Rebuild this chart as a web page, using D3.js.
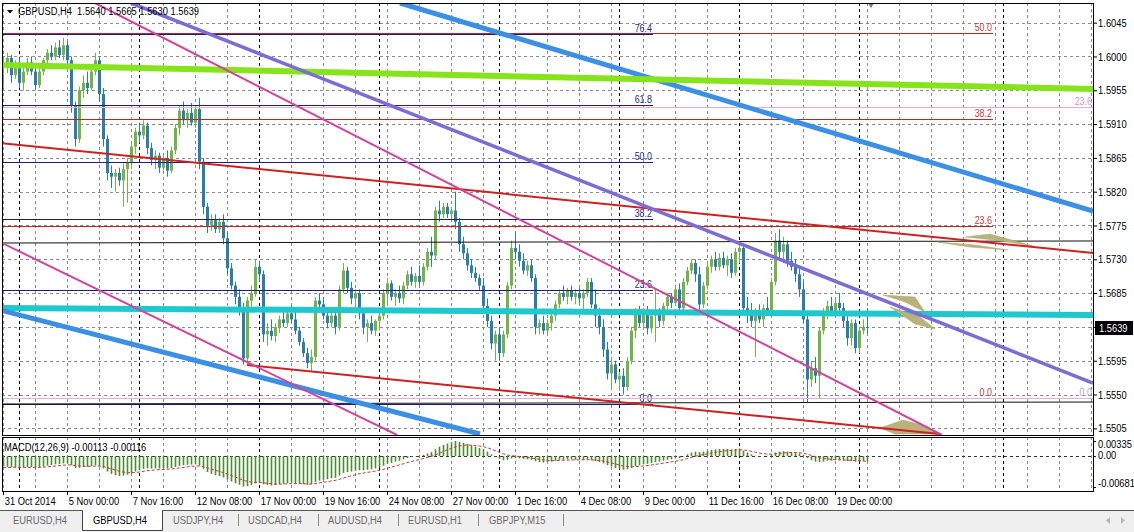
<!DOCTYPE html>
<html><head><meta charset="utf-8">
<script src="https://cdn.jsdelivr.net/npm/d3@7"></script>
<style>
html,body{margin:0;padding:0;background:#fff;}
svg{display:block;font-family:"Liberation Sans",Arial,sans-serif;}
</style></head><body>
<svg id="c" width="1134" height="532"></svg>
<script>
// ---------------- DATA ----------------
const symbolTitle = "GBPUSD,H4";
const lastOHLC = ["1.5640","1.5665","1.5630","1.5639"];
const opens = [
1.5985,1.5990,1.5998,1.5975,1.5990,1.5965,1.5980,1.5992,1.5980,1.5962,
1.5980,1.5995,1.6005,1.6000,1.6012,1.6002,1.6015,1.5995,1.5935,1.5890,
1.5955,1.5965,1.5958,1.5980,1.5995,1.5950,1.5890,1.5845,1.5840,1.5845,
1.5835,1.5850,1.5858,1.5880,1.5900,1.5895,1.5908,1.5878,1.5862,1.5868,
1.5852,1.5865,1.5848,1.5875,1.5905,1.5928,1.5915,1.5925,1.5912,1.5930,
1.5860,1.5800,1.5775,1.5782,1.5770,1.5780,1.5758,1.5718,1.5695,1.5680,
1.5665,1.5598,1.5675,1.5685,1.5720,1.5710,1.5630,1.5635,1.5628,1.5640,
1.5650,1.5645,1.5658,1.5650,1.5635,1.5620,1.5605,1.5592,1.5600,1.5675,
1.5670,1.5655,1.5645,1.5655,1.5640,1.5690,1.5715,1.5692,1.5678,1.5685,
1.5658,1.5640,1.5645,1.5635,1.5648,1.5655,1.5685,1.5698,1.5680,1.5685,
1.5678,1.5695,1.5710,1.5700,1.5708,1.5700,1.5720,1.5740,1.5735,1.5795,
1.5790,1.5800,1.5790,1.5795,1.5780,1.5750,1.5738,1.5722,1.5712,1.5705,
1.5695,1.5668,1.5648,1.5618,1.5630,1.5605,1.5630,1.5695,1.5745,1.5740,
1.5728,1.5715,1.5722,1.5705,1.5640,1.5645,1.5635,1.5645,1.5655,1.5670,
1.5685,1.5680,1.5688,1.5680,1.5685,1.5678,1.5685,1.5700,1.5670,1.5655,
1.5640,1.5610,1.5578,1.5590,1.5570,1.5575,1.5560,1.5595,1.5635,1.5660,
1.5645,1.5660,1.5638,1.5655,1.5660,1.5648,1.5668,1.5680,1.5672,1.5690,
1.5665,1.5700,1.5715,1.5725,1.5710,1.5670,1.5695,1.5720,1.5730,1.5720,
1.5732,1.5722,1.5730,1.5712,1.5740,1.5745,1.5665,1.5660,1.5648,1.5655,
1.5650,1.5665,1.5660,1.5700,1.5755,1.5740,1.5750,1.5728,1.5720,1.5710,
1.5690,1.5650,1.5570,1.5585,1.5575,1.5635,1.5660,1.5668,1.5660,1.5672,
1.5665,1.5648,1.5625,1.5645,1.5612,1.5635,1.5640];
const highs = [
1.6000,1.6005,1.6002,1.5995,1.5998,1.5985,1.5998,1.6000,1.5990,1.5985,
1.5998,1.6010,1.6015,1.6018,1.6022,1.6025,1.6020,1.6000,1.5940,1.5960,
1.5975,1.5980,1.5985,1.6005,1.6000,1.5958,1.5895,1.5855,1.5850,1.5852,
1.5858,1.5865,1.5885,1.5905,1.5912,1.5915,1.5912,1.5885,1.5875,1.5872,
1.5870,1.5875,1.5880,1.5910,1.5935,1.5940,1.5930,1.5938,1.5935,1.5945,
1.5865,1.5805,1.5790,1.5790,1.5785,1.5790,1.5765,1.5725,1.5700,1.5690,
1.5672,1.5680,1.5695,1.5730,1.5728,1.5715,1.5645,1.5650,1.5645,1.5655,
1.5660,1.5662,1.5668,1.5665,1.5640,1.5625,1.5612,1.5610,1.5680,1.5685,
1.5680,1.5665,1.5660,1.5665,1.5695,1.5725,1.5720,1.5700,1.5690,1.5690,
1.5665,1.5650,1.5655,1.5650,1.5660,1.5690,1.5705,1.5702,1.5690,1.5695,
1.5700,1.5715,1.5720,1.5712,1.5722,1.5725,1.5745,1.5760,1.5800,1.5808,
1.5805,1.5805,1.5800,1.5820,1.5785,1.5760,1.5745,1.5730,1.5720,1.5710,
1.5705,1.5678,1.5655,1.5635,1.5640,1.5635,1.5700,1.5755,1.5765,1.5750,
1.5738,1.5728,1.5730,1.5710,1.5650,1.5655,1.5650,1.5660,1.5675,1.5690,
1.5695,1.5692,1.5695,1.5690,1.5692,1.5690,1.5705,1.5705,1.5690,1.5665,
1.5650,1.5620,1.5600,1.5595,1.5580,1.5585,1.5600,1.5640,1.5665,1.5668,
1.5665,1.5668,1.5660,1.5690,1.5665,1.5672,1.5685,1.5685,1.5695,1.5698,
1.5705,1.5720,1.5730,1.5730,1.5720,1.5700,1.5725,1.5735,1.5740,1.5738,
1.5740,1.5735,1.5738,1.5745,1.5750,1.5750,1.5680,1.5672,1.5665,1.5670,
1.5670,1.5680,1.5705,1.5765,1.5770,1.5760,1.5755,1.5740,1.5730,1.5718,
1.5700,1.5660,1.5595,1.5600,1.5640,1.5665,1.5675,1.5680,1.5678,1.5685,
1.5672,1.5660,1.5650,1.5650,1.5640,1.5650,1.5665];
const lows = [
1.5960,1.5978,1.5965,1.5970,1.5958,1.5955,1.5975,1.5975,1.5955,1.5958,
1.5975,1.5985,1.5995,1.5995,1.5998,1.5995,1.5990,1.5925,1.5880,1.5885,
1.5945,1.5950,1.5955,1.5975,1.5940,1.5880,1.5835,1.5825,1.5820,1.5828,
1.5800,1.5805,1.5850,1.5870,1.5885,1.5890,1.5870,1.5855,1.5850,1.5845,
1.5848,1.5840,1.5845,1.5870,1.5895,1.5910,1.5905,1.5908,1.5905,1.5850,
1.5790,1.5765,1.5768,1.5765,1.5765,1.5750,1.5710,1.5690,1.5670,1.5655,
1.5590,1.5590,1.5660,1.5680,1.5700,1.5620,1.5615,1.5622,1.5620,1.5632,
1.5640,1.5640,1.5645,1.5630,1.5615,1.5600,1.5585,1.5580,1.5595,1.5660,
1.5650,1.5638,1.5640,1.5630,1.5635,1.5685,1.5685,1.5670,1.5665,1.5650,
1.5630,1.5620,1.5630,1.5628,1.5635,1.5650,1.5670,1.5675,1.5668,1.5672,
1.5670,1.5690,1.5695,1.5692,1.5695,1.5695,1.5715,1.5720,1.5730,1.5780,
1.5785,1.5785,1.5780,1.5770,1.5740,1.5730,1.5715,1.5705,1.5700,1.5688,
1.5660,1.5640,1.5610,1.5595,1.5595,1.5600,1.5625,1.5690,1.5730,1.5720,
1.5710,1.5708,1.5700,1.5630,1.5630,1.5630,1.5628,1.5635,1.5648,1.5665,
1.5675,1.5670,1.5675,1.5670,1.5672,1.5660,1.5680,1.5665,1.5640,1.5630,
1.5600,1.5570,1.5560,1.5565,1.5555,1.5550,1.5555,1.5590,1.5625,1.5640,
1.5640,1.5630,1.5632,1.5620,1.5640,1.5642,1.5660,1.5665,1.5668,1.5660,
1.5660,1.5695,1.5710,1.5700,1.5660,1.5665,1.5690,1.5712,1.5715,1.5715,
1.5718,1.5708,1.5705,1.5708,1.5725,1.5660,1.5645,1.5640,1.5600,1.5645,
1.5640,1.5655,1.5655,1.5695,1.5730,1.5725,1.5720,1.5715,1.5700,1.5680,
1.5645,1.5540,1.5560,1.5565,1.5545,1.5630,1.5650,1.5655,1.5655,1.5660,
1.5640,1.5615,1.5615,1.5605,1.5605,1.5630,1.5630];
const closes = [
1.5990,1.5998,1.5975,1.5990,1.5965,1.5980,1.5992,1.5980,1.5962,1.5980,
1.5995,1.6005,1.6000,1.6012,1.6002,1.6015,1.5995,1.5935,1.5890,1.5955,
1.5965,1.5958,1.5980,1.5995,1.5950,1.5890,1.5845,1.5840,1.5845,1.5835,
1.5850,1.5858,1.5880,1.5900,1.5895,1.5908,1.5878,1.5862,1.5868,1.5852,
1.5865,1.5848,1.5875,1.5905,1.5928,1.5915,1.5925,1.5912,1.5930,1.5860,
1.5800,1.5775,1.5782,1.5770,1.5780,1.5758,1.5718,1.5695,1.5680,1.5665,
1.5598,1.5675,1.5685,1.5720,1.5710,1.5630,1.5635,1.5628,1.5640,1.5650,
1.5645,1.5658,1.5650,1.5635,1.5620,1.5605,1.5592,1.5600,1.5675,1.5670,
1.5655,1.5645,1.5655,1.5640,1.5690,1.5715,1.5692,1.5678,1.5685,1.5658,
1.5640,1.5645,1.5635,1.5648,1.5655,1.5685,1.5698,1.5680,1.5685,1.5678,
1.5695,1.5710,1.5700,1.5708,1.5700,1.5720,1.5740,1.5735,1.5795,1.5790,
1.5800,1.5790,1.5795,1.5780,1.5750,1.5738,1.5722,1.5712,1.5705,1.5695,
1.5668,1.5648,1.5618,1.5630,1.5605,1.5630,1.5695,1.5745,1.5740,1.5728,
1.5715,1.5722,1.5705,1.5640,1.5645,1.5635,1.5645,1.5655,1.5670,1.5685,
1.5680,1.5688,1.5680,1.5685,1.5678,1.5685,1.5700,1.5670,1.5655,1.5640,
1.5610,1.5578,1.5590,1.5570,1.5575,1.5560,1.5595,1.5635,1.5660,1.5645,
1.5660,1.5638,1.5655,1.5660,1.5648,1.5668,1.5680,1.5672,1.5690,1.5665,
1.5700,1.5715,1.5725,1.5710,1.5670,1.5695,1.5720,1.5730,1.5720,1.5732,
1.5722,1.5730,1.5712,1.5740,1.5745,1.5665,1.5660,1.5648,1.5655,1.5650,
1.5665,1.5660,1.5700,1.5755,1.5740,1.5750,1.5728,1.5720,1.5710,1.5690,
1.5650,1.5570,1.5585,1.5575,1.5635,1.5660,1.5668,1.5660,1.5672,1.5665,
1.5648,1.5625,1.5645,1.5612,1.5635,1.5640,1.5639];
const macdMain = [
-0.00230,-0.00235,-0.00245,-0.00240,-0.00255,-0.00250,-0.00240,-0.00238,-0.00250,-0.00245,
-0.00230,-0.00210,-0.00195,-0.00180,-0.00175,-0.00160,-0.00160,-0.00200,-0.00260,-0.00255,
-0.00240,-0.00235,-0.00220,-0.00200,-0.00215,-0.00270,-0.00340,-0.00390,-0.00420,-0.00440,
-0.00430,-0.00410,-0.00380,-0.00340,-0.00310,-0.00280,-0.00270,-0.00275,-0.00270,-0.00272,
-0.00268,-0.00270,-0.00262,-0.00240,-0.00215,-0.00200,-0.00190,-0.00185,-0.00180,-0.00210,
-0.00280,-0.00350,-0.00390,-0.00420,-0.00440,-0.00470,-0.00510,-0.00560,-0.00600,-0.00630,
-0.00670,-0.00660,-0.00640,-0.00600,-0.00590,-0.00620,-0.00640,-0.00650,-0.00640,-0.00620,
-0.00610,-0.00600,-0.00590,-0.00600,-0.00610,-0.00620,-0.00630,-0.00620,-0.00570,-0.00540,
-0.00520,-0.00510,-0.00490,-0.00480,-0.00430,-0.00370,-0.00350,-0.00340,-0.00320,-0.00310,
-0.00310,-0.00300,-0.00290,-0.00270,-0.00250,-0.00210,-0.00170,-0.00150,-0.00120,-0.00100,
-0.00070,-0.00040,-0.00020,-0.00005,0.00010,0.00030,0.00060,0.00090,0.00150,0.00210,
0.00250,0.00280,0.00310,0.00335,0.00320,0.00290,0.00270,0.00240,0.00210,0.00180,
0.00150,0.00100,0.00040,-0.00010,-0.00060,-0.00090,-0.00080,-0.00050,-0.00040,-0.00050,
-0.00060,-0.00070,-0.00080,-0.00110,-0.00130,-0.00140,-0.00130,-0.00120,-0.00100,-0.00080,
-0.00080,-0.00070,-0.00070,-0.00080,-0.00070,-0.00080,-0.00070,-0.00090,-0.00110,-0.00130,
-0.00160,-0.00200,-0.00230,-0.00260,-0.00280,-0.00300,-0.00290,-0.00260,-0.00220,-0.00200,
-0.00180,-0.00170,-0.00150,-0.00130,-0.00120,-0.00100,-0.00080,-0.00070,-0.00050,-0.00040,
-0.00010,0.00040,0.00080,0.00100,0.00090,0.00100,0.00120,0.00140,0.00150,0.00160,
0.00160,0.00160,0.00150,0.00160,0.00170,0.00120,0.00080,0.00040,0.00010,-0.00010,
0.00000,0.00010,0.00040,0.00080,0.00100,0.00110,0.00100,0.00090,0.00080,0.00060,
0.00030,-0.00040,-0.00090,-0.00120,-0.00130,-0.00120,-0.00100,-0.00100,-0.00090,-0.00090,
-0.00100,-0.00110,-0.00110,-0.00120,-0.00120,-0.00110,-0.00113];
const macdSignal = [
-0.00250,-0.00248,-0.00247,-0.00246,-0.00248,-0.00248,-0.00247,-0.00246,-0.00247,-0.00246,
-0.00243,-0.00236,-0.00228,-0.00218,-0.00210,-0.00200,-0.00192,-0.00194,-0.00207,-0.00216,
-0.00221,-0.00224,-0.00223,-0.00219,-0.00218,-0.00228,-0.00250,-0.00278,-0.00306,-0.00333,
-0.00352,-0.00363,-0.00367,-0.00362,-0.00351,-0.00337,-0.00323,-0.00313,-0.00305,-0.00298,
-0.00292,-0.00288,-0.00283,-0.00274,-0.00262,-0.00250,-0.00238,-0.00227,-0.00218,-0.00216,
-0.00229,-0.00253,-0.00280,-0.00308,-0.00334,-0.00361,-0.00391,-0.00425,-0.00460,-0.00494,
-0.00529,-0.00555,-0.00572,-0.00578,-0.00580,-0.00588,-0.00598,-0.00608,-0.00614,-0.00616,
-0.00615,-0.00612,-0.00608,-0.00606,-0.00607,-0.00609,-0.00614,-0.00615,-0.00606,-0.00593,
-0.00578,-0.00565,-0.00550,-0.00536,-0.00515,-0.00486,-0.00459,-0.00435,-0.00412,-0.00391,
-0.00375,-0.00360,-0.00346,-0.00331,-0.00315,-0.00294,-0.00269,-0.00245,-0.00220,-0.00196,
-0.00171,-0.00145,-0.00120,-0.00097,-0.00076,-0.00055,-0.00032,-0.00008,0.00024,0.00061,
0.00099,0.00135,0.00170,0.00203,0.00226,0.00239,0.00245,0.00244,0.00237,0.00226,
0.00211,0.00189,0.00159,0.00125,0.00088,0.00052,0.00026,0.00011,0.00001,-0.00009,
-0.00019,-0.00029,-0.00039,-0.00053,-0.00069,-0.00083,-0.00092,-0.00098,-0.00098,-0.00094,
-0.00091,-0.00087,-0.00084,-0.00083,-0.00080,-0.00080,-0.00078,-0.00080,-0.00086,-0.00095,
-0.00108,-0.00126,-0.00147,-0.00170,-0.00192,-0.00213,-0.00229,-0.00235,-0.00232,-0.00226,
-0.00217,-0.00208,-0.00196,-0.00183,-0.00170,-0.00156,-0.00141,-0.00127,-0.00112,-0.00098,
-0.00080,-0.00056,-0.00029,-0.00003,0.00016,0.00033,0.00050,0.00068,0.00084,0.00099,
0.00111,0.00121,0.00127,0.00134,0.00141,0.00137,0.00126,0.00109,0.00089,0.00069,
0.00055,0.00046,0.00045,0.00052,0.00062,0.00071,0.00077,0.00080,0.00080,0.00076,
0.00067,0.00046,0.00019,-0.00009,-0.00033,-0.00051,-0.00061,-0.00069,-0.00073,-0.00077,
-0.00082,-0.00087,-0.00092,-0.00098,-0.00102,-0.00104,-0.00116];
const macdTitle = "MACD(12,26,9) -0.00113 -0.00116";
const macdTicks = [0.00335, 0, -0.00681];
const macdTickLabels = ["0.00335","0.00","-0.00681"];
const priceTicks = [1.6045,1.6000,1.5955,1.5910,1.5865,1.5820,1.5775,1.5730,1.5685,1.5640,1.5595,1.5550,1.5505];
const currentPrice = 1.5639;
const timeTickBars = [0,16,32,48,64,80,96,112,128,144,160,176,192,208];
const timeTickLabels = ["31 Oct 2014","5 Nov 00:00","7 Nov 16:00","12 Nov 08:00","17 Nov 00:00","19 Nov 16:00","24 Nov 08:00","27 Nov 00:00","1 Dec 16:00","4 Dec 08:00","9 Dec 00:00","11 Dec 16:00","16 Dec 08:00","19 Dec 00:00"];
const weekSeparatorBars = [4,34,64,94,124,154,184,214,250];
// trend lines (bar index, price)
const lineNames = ["blackUp","blackLow","cyan","blueUp","blueLow","green","redUp","redLow","pinkUp","pinkLow","purple"];
const lineBar0  = [-0.25,-0.25,-0.75,99.25,-0.75,-0.75,-0.75,61,23,-0.75,32];
const linePrice0= [1.57517,1.55374,1.56652,1.60712,1.56625,1.59887,1.58848,1.55892,1.60712,1.57530,1.60712];
const lineBar1  = [272.5,272.5,272.5,272.5,119.25,272.5,272.5,234.25,234.75,98.5,272.5];
const linePrice1= [1.57544,1.55400,1.56558,1.57943,1.54974,1.59567,1.57384,1.54974,1.54961,1.54961,1.55653];
// Fibonacci retracements
const fibNames = ["navy","red","pink"];
const fibPrice0 = [1.553735,1.554533,1.554533];
const fibPrice100 = [1.618173,1.651724,1.718698];
const fibLevels = [[0,23.6,38.2,50,61.8,76.4],[0,23.6,38.2,50],[0,23.6]];
const fibBar0 = [-0.25,-0.25,-0.25];
const fibBar1 = [162.5,247.5,272.5];
// khaki drawn shapes (thin slivers)
const cloudBars = [
  [240.5,246.75,257.5,248],
  [233.5,243,251.25,241.75],
  [220,228,230.5,225.5],
  [221.75,229.25,233,228],
  [219.25,225,229.75,234.25,223]];
const cloudPrices = [
  [1.575968,1.576367,1.574770,1.575569],
  [1.575302,1.574903,1.574237,1.574637],
  [1.568246,1.567980,1.565983,1.567314],
  [1.566650,1.565318,1.563721,1.564387],
  [1.55054,1.55160,1.55094,1.54974,1.54974]];
const tabLabels = ["EURUSD,H4","GBPUSD,H4","USDJPY,H4","USDCAD,H4","AUDUSD,H4","EURUSD,H1","GBPJPY,M15"];
const activeTab = 1;

// ---------------- STYLE / LAYOUT ----------------
const svg = d3.select("#c");
const P = {l:2, r:1093, t:3, b:435};
const M = {t:437, b:491};
const x = d3.scaleLinear().domain([0,272.5]).range([3,1093]);
const y = d3.scaleLinear().domain([1.54961,1.60712]).range([435,3]);
const ym = d3.scaleLinear().domain([-0.00681,0.00335]).range([487,441]);
const SX = 0.85;
const bullC = "#72b446", bearC = "#2a7db3";
const lineStyle = {
  blackUp:{c:"#111",w:1}, blackLow:{c:"#111",w:1},
  cyan:{c:"#1fc8cc",w:6}, blueUp:{c:"#3b8fe4",w:5}, blueLow:{c:"#3b8fe4",w:5},
  green:{c:"#86e31c",w:6}, redUp:{c:"#cc2222",w:2}, redLow:{c:"#cc2222",w:2},
  pinkUp:{c:"#d4449c",w:2}, pinkLow:{c:"#d4449c",w:2}, purple:{c:"#7d6bd6",w:3.5}
};
const fibStyle = {navy:{c:"#1e1e78",t:"#2a2a8c"}, red:{c:"#b42828",t:"#c83c3c"}, pink:{c:"#dcb2dc",t:"#cc99cc"}};

function sText(g, tx, ty, str, o={}){
  const t = g.append("text").attr("transform",`translate(${tx},${ty}) scale(${SX},1)`)
    .attr("font-size", o.size||11).attr("fill", o.fill||"#000").text(str);
  if(o.anchor) t.attr("text-anchor", o.anchor);
  return t;
}

svg.append("rect").attr("width",1134).attr("height",532).attr("fill","#fff");
const defs = svg.append("defs");
defs.append("clipPath").attr("id","cm").append("rect").attr("x",P.l).attr("y",P.t).attr("width",P.r-P.l).attr("height",P.b-P.t);
defs.append("clipPath").attr("id","cd").append("rect").attr("x",P.l).attr("y",M.t).attr("width",P.r-P.l).attr("height",M.b-M.t);

// grid
const gridBars = d3.range(0, 273, 8);
const gMain = svg.append("g").attr("clip-path","url(#cm)");
gMain.selectAll("line.vg").data(gridBars).join("line")
  .attr("x1",d=>x(d)+0.5).attr("x2",d=>x(d)+0.5).attr("y1",P.t).attr("y2",P.b)
  .attr("stroke","#8c8c8c").attr("stroke-dasharray","3,3");
gMain.selectAll("line.hg").data(priceTicks).join("line")
  .attr("x1",P.l).attr("x2",P.r).attr("y1",d=>Math.round(y(d))+0.5).attr("y2",d=>Math.round(y(d))+0.5)
  .attr("stroke","#8c8c8c").attr("stroke-dasharray","3,3");
gMain.selectAll("line.sep").data(weekSeparatorBars).join("line")
  .attr("x1",d=>x(d)+0.5).attr("x2",d=>x(d)+0.5).attr("y1",P.t).attr("y2",P.b)
  .attr("stroke","#000").attr("stroke-dasharray","3,3");

// candles
const bars = d3.range(opens.length);
const gC = gMain.append("g");
gC.selectAll("line.wick").data(bars).join("line")
  .attr("x1",i=>x(i)+0.5).attr("x2",i=>x(i)+0.5)
  .attr("y1",i=>y(highs[i])).attr("y2",i=>y(lows[i]))
  .attr("stroke",i=>closes[i]>=opens[i]?bullC:bearC).attr("stroke-width",1);
gC.selectAll("rect.body").data(bars).join("rect")
  .attr("x",i=>x(i)-1).attr("width",3)
  .attr("y",i=>y(Math.max(opens[i],closes[i])))
  .attr("height",i=>Math.max(1,Math.abs(y(opens[i])-y(closes[i]))))
  .attr("fill",i=>closes[i]>=opens[i]?bullC:bearC);

// fibonacci
fibNames.forEach((n,k)=>{
  const st = fibStyle[n];
  fibLevels[k].forEach(lv=>{
    const p = fibPrice0[k] + (fibPrice100[k]-fibPrice0[k])*lv/100;
    const yy = Math.round(y(p))+0.5;
    gMain.append("line").attr("x1",x(fibBar0[k])).attr("x2",x(fibBar1[k])).attr("y1",yy).attr("y2",yy)
      .attr("stroke",st.c).attr("stroke-width",1);
    sText(gMain, x(fibBar1[k])-1, yy-3, lv.toFixed(1), {anchor:"end", fill:st.t, size:10.5});
  });
});

function drawLine(name){
  const k = lineNames.indexOf(name), s = lineStyle[name];
  gMain.append("line").attr("x1",x(lineBar0[k])).attr("y1",y(linePrice0[k]))
    .attr("x2",x(lineBar1[k])).attr("y2",y(linePrice1[k]))
    .attr("stroke",s.c).attr("stroke-width",s.w);
}
["blackUp","blackLow","cyan","blueUp","blueLow","green"].forEach(drawLine);
// clouds
cloudBars.forEach((bs,k)=>{
  gMain.append("path")
    .attr("d", d3.line()(bs.map((b,j)=>[x(b), y(cloudPrices[k][j])])) + "Z")
    .attr("fill","#bab27a").attr("stroke","#aca46a").attr("stroke-width",0.5);
});
["redUp","redLow","pinkUp","pinkLow","purple"].forEach(drawLine);

// shift marker
svg.append("path").attr("d",`M${x(216.25)},${P.t}L${x(217.75)},${P.t}L${x(217)},${P.t+5}Z`).attr("fill","#7a7a7a");

// main border
svg.append("rect").attr("x",P.l+0.5).attr("y",P.t+0.5).attr("width",P.r-P.l).attr("height",P.b-P.t)
  .attr("fill","none").attr("stroke","#000");

// header
svg.append("path").attr("d","M7,10L13,10L10,13.5Z").attr("fill","#000");
sText(svg, 18, 15, symbolTitle+"\u00a0\u00a0"+lastOHLC.join(" "), {size:11});

// price axis
const ax = svg.append("g").attr("transform",`translate(${P.r},0)`)
  .call(d3.axisRight(y).tickValues(priceTicks).tickSize(4).tickPadding(2).tickFormat(d3.format(".4f")));
ax.select(".domain").remove();
ax.selectAll("line").attr("stroke","#000");
ax.selectAll("text").attr("font-size",11).attr("font-family","Liberation Sans, Arial, sans-serif")
  .attr("transform",`scale(${SX},1)`).attr("fill","#000");
// current price box
const cpY = Math.round(y(currentPrice));
svg.append("rect").attr("x",P.r+2).attr("y",cpY-7).attr("width",38).attr("height",14).attr("fill","#000");
sText(svg, P.r+6, cpY+4, d3.format(".4f")(currentPrice), {fill:"#fff"});

// ---------------- MACD panel ----------------
const gM = svg.append("g").attr("clip-path","url(#cd)");
gM.selectAll("line.vg").data(gridBars).join("line")
  .attr("x1",d=>x(d)+0.5).attr("x2",d=>x(d)+0.5).attr("y1",M.t).attr("y2",M.b)
  .attr("stroke","#8c8c8c").attr("stroke-dasharray","3,3");
gM.selectAll("line.sep").data(weekSeparatorBars).join("line")
  .attr("x1",d=>x(d)+0.5).attr("x2",d=>x(d)+0.5).attr("y1",M.t).attr("y2",M.b)
  .attr("stroke","#000").attr("stroke-dasharray","3,3");
gM.append("line").attr("x1",P.l).attr("x2",P.r).attr("y1",Math.round(ym(0))+0.5).attr("y2",Math.round(ym(0))+0.5)
  .attr("stroke","#333").attr("stroke-dasharray","3,3");
gM.selectAll("line.h").data(bars).join("line")
  .attr("x1",i=>x(i)+0.5).attr("x2",i=>x(i)+0.5)
  .attr("y1",ym(0)).attr("y2",i=>ym(macdMain[i]))
  .attr("stroke","#4a8a30").attr("stroke-width",1.6);
gM.append("path").datum(bars)
  .attr("d", d3.line().x(i=>x(i)).y(i=>ym(macdSignal[i])))
  .attr("fill","none").attr("stroke","#c83c3c").attr("stroke-width",1).attr("stroke-dasharray","3,2");
sText(svg, 4, 451, macdTitle, {size:11});
svg.append("rect").attr("x",P.l+0.5).attr("y",M.t+0.5).attr("width",P.r-P.l).attr("height",M.b-M.t)
  .attr("fill","none").attr("stroke","#000");
const axm = svg.append("g").attr("transform",`translate(${P.r},0)`)
  .call(d3.axisRight(ym).tickValues(macdTicks).tickSize(3).tickPadding(3).tickFormat((d,i)=>macdTickLabels[i]));
axm.select(".domain").remove();
axm.selectAll("line").attr("stroke","#000");
axm.selectAll("text").attr("font-size",11).attr("font-family","Liberation Sans, Arial, sans-serif")
  .attr("transform",`scale(${SX},1)`).attr("fill","#000")
  .attr("dy",(d,i)=> i===0 ? "0.55em" : (i===2 ? "-0.05em" : "0.2em"));

// time axis
const axt = svg.append("g").attr("transform",`translate(0,${M.b})`)
  .call(d3.axisBottom(x).tickValues(timeTickBars).tickSize(4).tickPadding(2).tickFormat((d,i)=>timeTickLabels[i]));
axt.select(".domain").remove();
axt.selectAll("line").attr("stroke","#000");
axt.selectAll("text").attr("font-size",11).attr("font-family","Liberation Sans, Arial, sans-serif")
  .attr("text-anchor","start").attr("x",1.5).attr("transform",`scale(${SX},1)`).attr("fill","#000");

// ---------------- tabs ----------------
svg.append("rect").attr("x",0).attr("y",510).attr("width",1134).attr("height",22).attr("fill","#efefef");
svg.append("line").attr("x1",0).attr("x2",1134).attr("y1",510.5).attr("y2",510.5).attr("stroke","#555");
const tabStarts = [13,93,173,248,328,408,489];
const tabLefts = [2,82,163,243,323,403,483];
tabLabels.forEach((t,i)=>{
  if(i===activeTab){
    svg.append("path").attr("d",`M${tabLefts[i]+0.5},510.5V530.5H${tabLefts[i+1]-0.5}V510.5`)
      .attr("fill","#fff").attr("stroke","#444");
    svg.append("line").attr("x1",tabLefts[i]+1).attr("x2",tabLefts[i+1]-1).attr("y1",510.5).attr("y2",510.5).attr("stroke","#fff");
  }
  sText(svg, tabStarts[i], 524, t, {fill: i===activeTab?"#000":"#6a6a6a"});
});
[238,318,398,478,563].forEach(sx=>{
  svg.append("line").attr("x1",sx+0.5).attr("x2",sx+0.5).attr("y1",514).attr("y2",526).attr("stroke","#8a8a8a");
});
svg.append("path").attr("d","M1110,517L1106,520.5L1110,524Z").attr("fill","#b8b8b8");
svg.append("path").attr("d","M1121,517L1125,520.5L1121,524Z").attr("fill","#b8b8b8");
</script>
</body></html>
